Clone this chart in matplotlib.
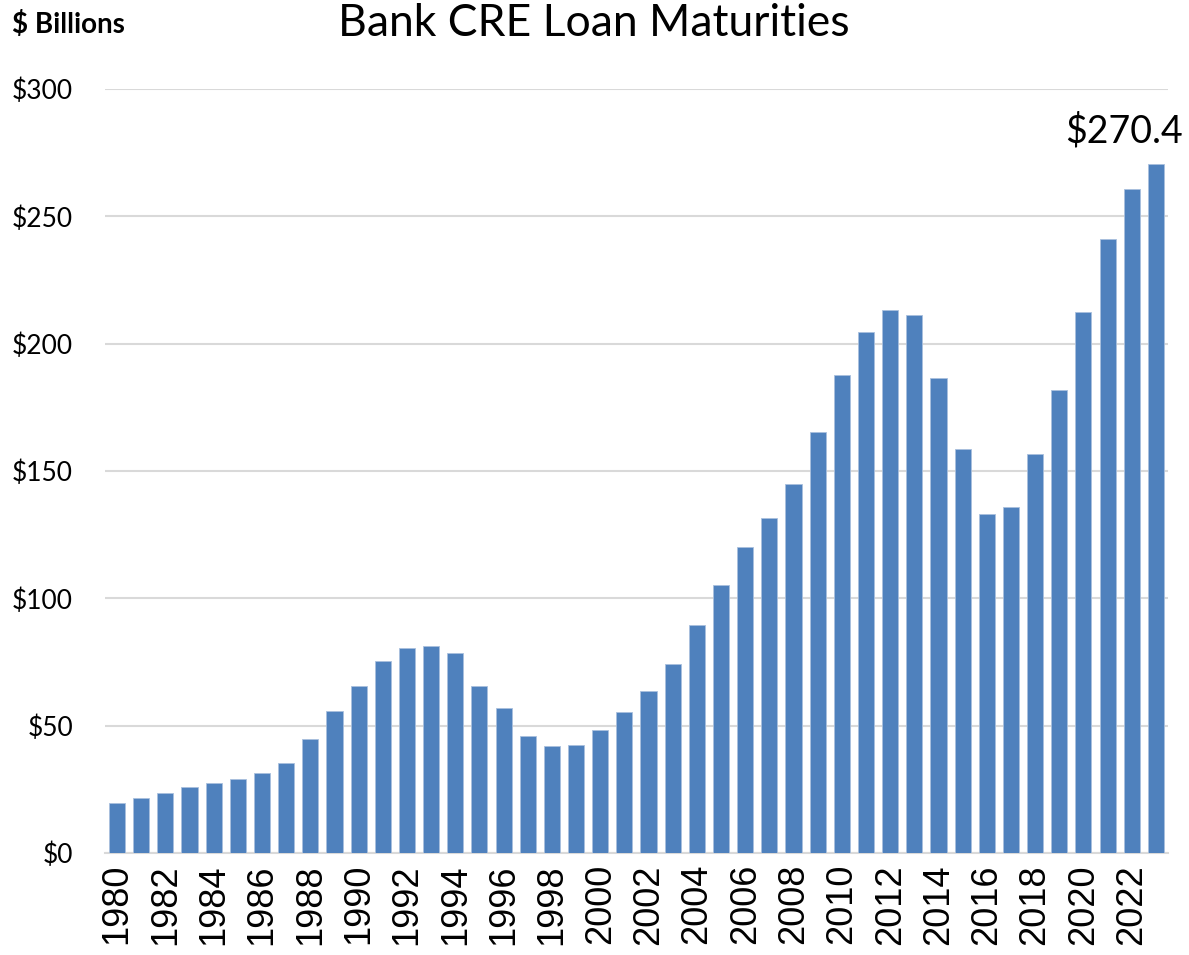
import numpy as np
import matplotlib
matplotlib.use("Agg")
import matplotlib.pyplot as plt

# Bank CRE loan maturities by year, $ billions
years = list(range(1980, 2024))
maturities = [
    19.7, 21.5, 23.7, 26.0, 27.6, 28.9, 31.3, 35.2, 44.6, 55.6,
    65.7, 75.3, 80.6, 81.2, 78.5, 65.4, 56.9, 45.9, 42.1, 42.5,
    48.3, 55.2, 63.5, 74.2, 89.5, 105.2, 120.3, 131.4, 144.8, 165.4,
    187.6, 204.4, 213.1, 211.1, 186.6, 158.6, 133.1, 136.0, 156.8, 181.7,
    212.4, 241.1, 260.6, 270.4,
]
yticks = [0, 50, 100, 150, 200, 250, 300]
title = "Bank CRE Loan Maturities"
unit_label = "$ Billions"

BAR_COLOR = "#4F81BD"
GRID_COLOR = "#D9D9D9"
FONT = ["Lato", "DejaVu Sans"]
YEAR_FONT = ["Liberation Sans", "DejaVu Sans"]

fig = plt.figure(figsize=(11.89, 9.55), dpi=100)
ax = fig.add_axes([0.0883, 0.1068, 0.894, 0.800])

x = np.arange(len(years))
bars = ax.bar(x, maturities, width=0.667, color=BAR_COLOR,
              edgecolor="#A9C0DE", linewidth=0.6, zorder=3)

ax.set_xlim(-0.5, len(years) - 0.5)
ax.set_ylim(0, 300)
ax.set_yticks(yticks)
ax.set_yticklabels([f"${v}" for v in yticks], family=FONT, fontsize=19)
ax.yaxis.grid(True, color=GRID_COLOR, linewidth=1.5, zorder=0)
ax.tick_params(axis="y", length=0, pad=23)

ax.set_xticks(x[::2])
ax.set_xticklabels([str(y) for y in years[::2]], rotation=90,
                   family=YEAR_FONT, fontsize=26)
ax.tick_params(axis="x", length=0, pad=8)

for side in ["top", "right", "left"]:
    ax.spines[side].set_visible(False)
ax.spines["bottom"].set_color(GRID_COLOR)
ax.spines["bottom"].set_linewidth(1.5)

# label the latest year, pulled left so it stays inside the figure
ax.annotate(f"${maturities[-1]:.1f}", xy=(x[-1], maturities[-1]),
            xytext=(1183 / 1189, maturities[-1] + 6),
            textcoords=("figure fraction", "data"),
            ha="right", va="bottom", family=FONT, fontsize=27)

fig.text(0.4995, 1 - 24 / 955, title, ha="center", va="center",
         family=FONT, fontsize=32)
fig.text(12 / 1189, 1 - 24 / 955, unit_label, ha="left", va="center",
         family=FONT, fontsize=20, fontweight="bold")

fig.savefig("out.png", dpi=100)
